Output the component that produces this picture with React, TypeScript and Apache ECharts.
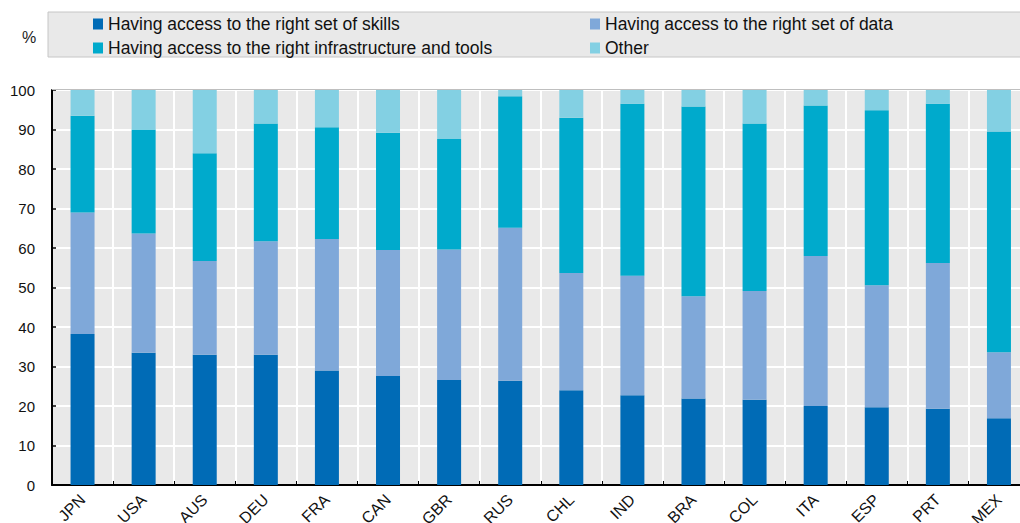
import React, { useEffect, useRef } from "react";
import * as echarts from "echarts";

const categories = ["JPN", "USA", "AUS", "DEU", "FRA", "CAN", "GBR", "RUS", "CHL", "IND", "BRA", "COL", "ITA", "ESP", "PRT", "MEX"];
const skills = [38.2, 33.5, 33.0, 33.0, 29.0, 27.6, 26.6, 26.4, 24.0, 22.7, 21.9, 21.6, 20.0, 19.7, 19.3, 16.9];
const data = [30.8, 30.2, 23.7, 28.7, 33.3, 31.9, 33.0, 38.7, 29.7, 30.3, 25.9, 27.5, 38.0, 30.9, 36.9, 16.7];
const infra = [24.5, 26.3, 27.3, 29.8, 28.3, 29.7, 28.0, 33.3, 39.3, 43.5, 48.0, 42.4, 38.1, 44.3, 40.3, 55.9];
const other = [6.5, 10.0, 16.0, 8.5, 9.4, 10.8, 12.4, 1.6, 7.0, 3.5, 4.2, 8.5, 3.9, 5.1, 3.5, 10.5];
const yTicks = [0, 10, 20, 30, 40, 50, 60, 70, 80, 90, 100];

const names = [
  "Having access to the right set of skills",
  "Having access to the right set of data",
  "Having access to the right infrastructure and tools",
  "Other",
];
const colors = ["#006BB6", "#7FA8D9", "#00AACC", "#83D0E3"];

const legendFont = "'Liberation Sans', sans-serif";
const axisFont = "'Liberation Sans', sans-serif";

export default function App() {
  const ref = useRef<HTMLDivElement>(null);
  useEffect(() => {
    if (!ref.current) return;
    const chart = echarts.init(ref.current, undefined, { renderer: "svg" });
    const series = [skills, data, infra, other].map((vals, i) => ({
      name: names[i],
      type: "bar",
      stack: "total",
      data: vals,
      barWidth: 24,
      itemStyle: { color: colors[i] },
    }));
    const legendCommon = {
      orient: "vertical",
      top: 10,
      itemWidth: 10,
      itemHeight: 11,
      itemGap: 6,
      icon: "rect",
      textStyle: { fontSize: 17.5, fontFamily: legendFont, color: "#111" },
    };
    chart.setOption({
      animation: false,
      graphic: [
        {
          type: "rect",
          shape: { x: 48, y: 12, width: 1000, height: 45 },
          style: { fill: "#e9e9e9", stroke: "#c6c6c6", lineWidth: 1 },
          z: -10,
        },
        {
          type: "text",
          x: 22,
          y: 29,
          style: { text: "%", fontSize: 16, fill: "#222", fontFamily: axisFont },
        },
        {
          type: "line",
          shape: { x1: 52, y1: 89.5, x2: 1040, y2: 89.5 },
          style: { stroke: "#bfbfbf", lineWidth: 1 },
          z: 10,
        },
      ],
      legend: [
        { ...legendCommon, data: [names[0], names[2]], left: 88 },
        { ...legendCommon, data: [names[1], names[3]], left: 585 },
      ],
      grid: {
        left: 52,
        right: 10.5,
        top: 90,
        bottom: 38,
        show: true,
        backgroundColor: "#e9e9e9",
        borderWidth: 0,
        containLabel: false,
        outerBoundsMode: "none",
      },
      xAxis: {
        type: "category",
        data: categories,
        axisLine: { lineStyle: { color: "#000", width: 2 } },
        axisTick: { show: true, inside: true, interval: 0, length: 4, lineStyle: { color: "#000", width: 1 } },
        axisLabel: {
          interval: 0,
          rotate: 45,
          fontSize: 16,
          fontFamily: axisFont,
          color: "#111",
          margin: 12,
        },
        splitLine: { show: true, interval: 0, lineStyle: { color: "#fff", width: 2 } },
      },
      yAxis: {
        type: "value",
        min: yTicks[0],
        max: yTicks[yTicks.length - 1],
        interval: 10,
        axisLine: { show: true, lineStyle: { color: "#000", width: 2 } },
        axisTick: { show: true, inside: true, length: 4, lineStyle: { color: "#000", width: 1.5 } },
        axisLabel: { fontSize: 15, fontFamily: axisFont, color: "#111", margin: 17 },
        splitLine: { show: true, lineStyle: { color: "#fff", width: 2 } },
      },
      series,
    });
    return () => chart.dispose();
  }, []);
  return (
    <div style={{ position: "fixed", left: 0, top: 0, width: 1020, height: 523, overflow: "hidden", background: "#fff" }}>
      <div ref={ref} style={{ width: 1040, height: 523 }} />
    </div>
  );
}
